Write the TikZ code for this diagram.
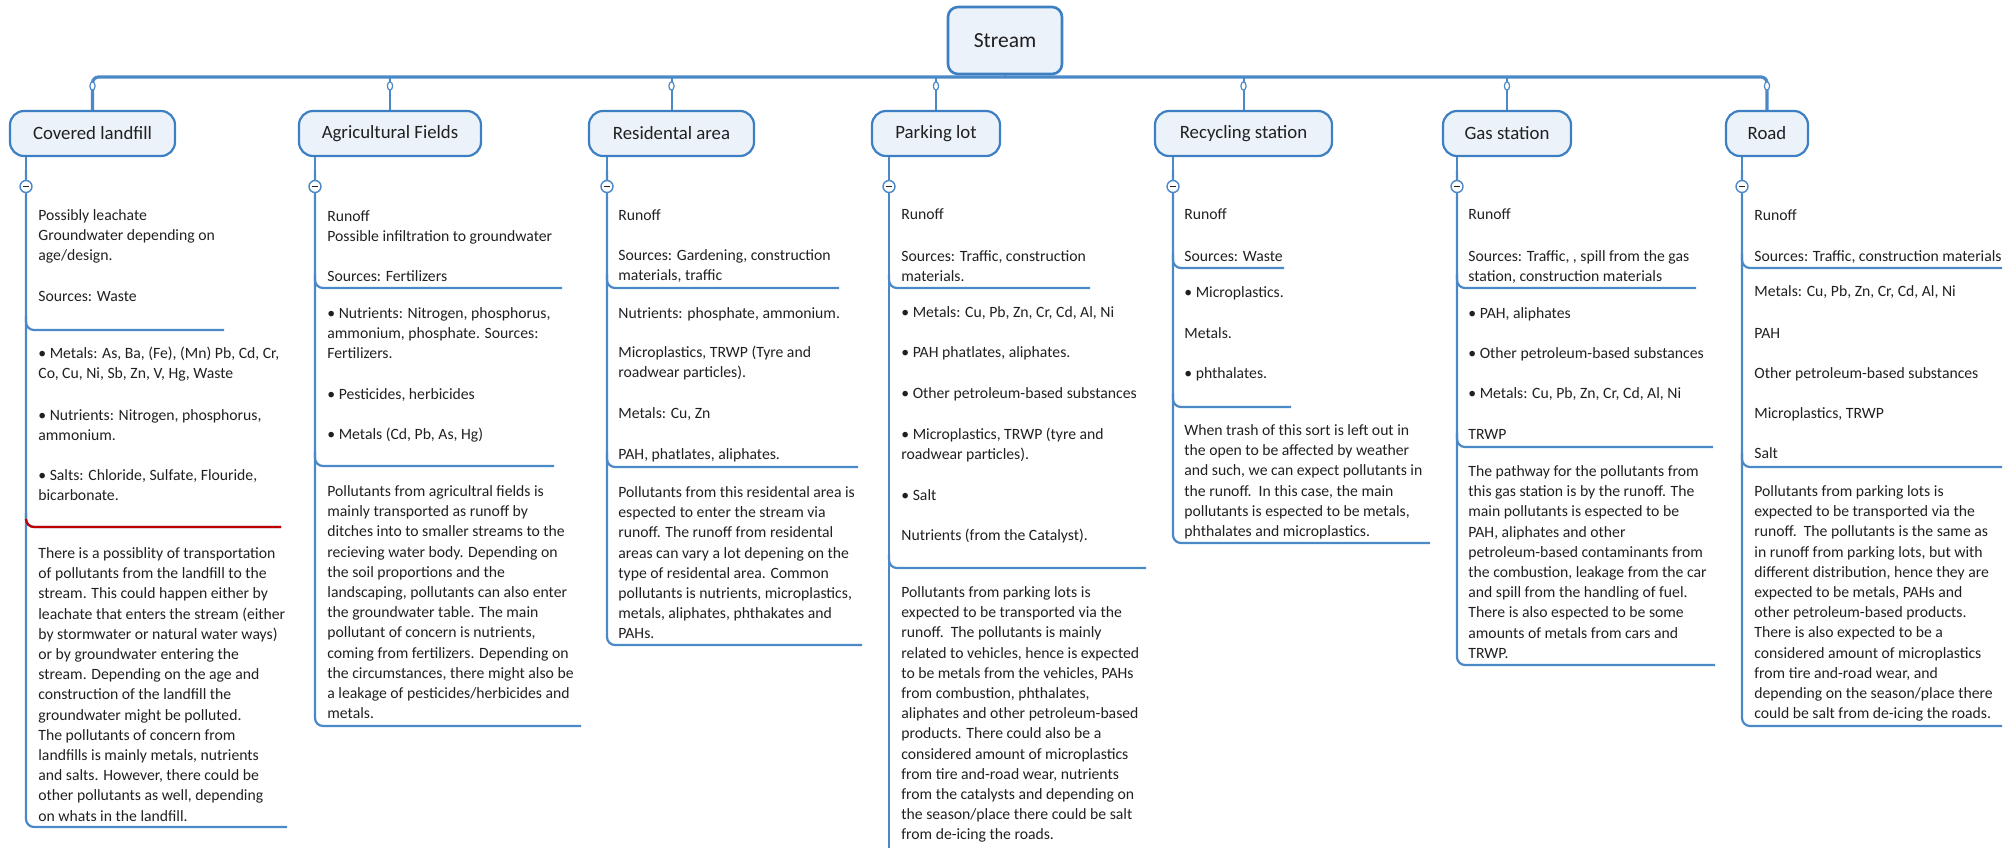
\documentclass[tikz,border=0pt]{standalone}
\usepackage{fontspec}
\setmainfont{Carlito}
\usetikzlibrary{shapes.geometric}
\definecolor{lnblue}{HTML}{4A88C8}
\definecolor{bxblue}{HTML}{3D7FC3}
\definecolor{bxfill}{HTML}{EBF2FA}
\definecolor{txtc}{HTML}{202020}
\definecolor{sepred}{HTML}{C00000}
\tikzset{
  txt/.style={anchor=north west, inner sep=0pt, align=left, text=txtc, font=\fontsize{7.85}{10.1}\selectfont},
  hdr/.style={draw=bxblue, fill=bxfill, line width=1.1pt, rounded corners=7pt, minimum height=22.5pt, inner sep=0pt, text=txtc, font=\fontsize{9.4}{11}\selectfont},
  root/.style={draw=bxblue, fill=bxfill, line width=1.3pt, rounded corners=5pt, minimum width=57pt, minimum height=33.5pt, inner sep=0pt, text=txtc, font=\fontsize{10.75}{12}\selectfont},
  ln/.style={draw=lnblue, line width=1pt},
  sepl/.style={draw=lnblue, line width=1.1pt, rounded corners=4pt},
  bus/.style={draw=lnblue, line width=1.6pt, rounded corners=3pt},
  knob/.style={ellipse, draw=lnblue, fill=white, line width=0.6pt, minimum width=2.6pt, minimum height=4.2pt, inner sep=0pt},
  minus/.style={circle, draw=lnblue, fill=white, line width=0.7pt, minimum size=6pt, inner sep=0pt},
  minusbar/.style={draw=txtc, line width=0.6pt}
}
\begin{document}
\begin{tikzpicture}[x=0.5pt,y=-0.5pt]
\useasboundingbox (0,0) rectangle (2008,847);
\clip (0,0) rectangle (2008,847);
\coordinate (by) at (0,77);
\coordinate (ky) at (0,86);

% root and headers
\node[root] (stream) at (1005,40.5) {Stream};
\node[hdr, minimum width=82.5pt] (h1) at (92.5,133.5) {Covered landfill};
\node[hdr, minimum width=91pt] (h2) at (390,133.5) {Agricultural Fields};
\node[hdr, minimum width=82.5pt] (h3) at (671.5,133.5) {Residental area};
\node[hdr, minimum width=64pt] (h4) at (936,133.5) {Parking lot};
\node[hdr, minimum width=88.5pt] (h5) at (1243.5,133.5) {Recycling station};
\node[hdr, minimum width=64pt] (h6) at (1507,133.5) {Gas station};
\node[hdr, minimum width=41pt] (h7) at (1767,133.5) {Road};

% bus
\draw[bus] (h1.north) -- (h1.north |- by) -- (h7.north |- by) -- (h7.north);
\foreach \h in {h2,h3,h4,h5,h6} \draw[ln] (\h.north) -- (\h.north |- by);
\draw[ln] (stream.south) -- (stream.south |- by);
\foreach \h/\k in {h1/k1,h2/k2,h3/k3,h4/k4,h5/k5,h6/k6,h7/k7} \node[knob] (\k) at (\h.north |- ky) {};

% column lines and separators
% col 1
\draw[sepl] (26,170) -- (26,827) -- (287,827);
\draw[sepl] (26,316) -- (26,330) -- (224,330);
\draw[sepl] (26,513) -- (26,527) -- (281,527);
\draw[sepl, draw=sepred] (26,519) -- (26,527) -- (281,527);
% col 2
\draw[sepl] (315,170) -- (315,726) -- (581,726);
\draw[sepl] (315,274) -- (315,288) -- (562,288);
\draw[sepl] (315,452) -- (315,466) -- (554,466);
% col 3
\draw[sepl] (607,170) -- (607,645) -- (862,645);
\draw[sepl] (607,274) -- (607,288) -- (839,288);
\draw[sepl] (607,453) -- (607,467) -- (858,467);
% col 4
\draw[ln] (889,170) -- (889,860);
\draw[sepl] (889,274) -- (889,288) -- (1090,288);
\draw[sepl] (889,554) -- (889,568) -- (1146,568);
% col 5
\draw[sepl] (1173,170) -- (1173,543) -- (1430,543);
\draw[sepl] (1173,254) -- (1173,268) -- (1284,268);
\draw[sepl] (1173,393) -- (1173,407) -- (1291,407);
% col 6
\draw[sepl] (1457,170) -- (1457,665) -- (1715,665);
\draw[sepl] (1457,274) -- (1457,288) -- (1696,288);
\draw[sepl] (1457,433) -- (1457,447) -- (1713,447);
% col 7
\draw[sepl] (1742,170) -- (1742,726) -- (2002,726);
\draw[sepl] (1742,254) -- (1742,268) -- (2002,268);
\draw[sepl] (1742,453) -- (1742,467) -- (2002,467);

% minus circles
\foreach \x/\h/\m in {26/h1/m1,315/h2/m2,607/h3/m3,889/h4/m4,1173/h5/m5,1457/h6/m6,1742/h7/m7}{
  \node[minus] (\m) at (\x,186.5) {};
  \draw[ln] (\h.south -| \m) -- (\m.north);
  \draw[minusbar] ([xshift=-1.7pt]\m.center) -- ([xshift=1.7pt]\m.center);
}

% ---------- column 1
\node[txt] (c1a) at (38,206) {\strut Possibly leachate\\Groundwater depending on\\age/design.};
\node[txt] (c1b) at (38,287) {\strut Sources: Waste};
\node[txt] (c1c) at (38,344) {\strut • Metals: As, Ba, (Fe), (Mn) Pb, Cd, Cr,\\Co, Cu, Ni, Sb, Zn, V, Hg, Waste};
\node[txt] (c1d) at (38,406) {\strut • Nutrients: Nitrogen, phosphorus,\\ammonium.};
\node[txt] (c1e) at (38,466) {\strut • Salts: Chloride, Sulfate, Flouride,\\bicarbonate.};
\node[txt] (c1f) at (38,544) {\strut There is a possiblity of transportation\\of pollutants from the landfill to the\\stream. This could happen either by\\leachate that enters the stream (either\\by stormwater or natural water ways)\\or by groundwater entering the\\stream. Depending on the age and\\construction of the landfill the\\groundwater might be polluted.\\The pollutants of concern from\\landfills is mainly metals, nutrients\\and salts. However, there could be\\other pollutants as well, depending\\on whats in the landfill.};

% ---------- column 2
\node[txt] (c2a) at (327,207) {\strut Runoff\\Possible infiltration to groundwater};
\node[txt] (c2b) at (327,267) {\strut Sources: Fertilizers};
\node[txt] (c2c) at (327,304) {\strut • Nutrients: Nitrogen, phosphorus,\\ammonium, phosphate. Sources:\\Fertilizers.};
\node[txt] (c2d) at (327,385) {\strut • Pesticides, herbicides};
\node[txt] (c2e) at (327,425) {\strut • Metals (Cd, Pb, As, Hg)};
\node[txt] (c2f) at (327,482) {\strut Pollutants from agricultral fields is\\mainly transported as runoff by\\ditches into to smaller streams to the\\recieving water body. Depending on\\the soil proportions and the\\landscaping, pollutants can also enter\\the groundwater table. The main\\pollutant of concern is nutrients,\\coming from fertilizers. Depending on\\the circumstances, there might also be\\a leakage of pesticides/herbicides and\\metals.};

% ---------- column 3
\node[txt] (c3a) at (618,206) {\strut Runoff};
\node[txt] (c3b) at (618,246) {\strut Sources: Gardening, construction\\materials, traffic};
\node[txt] (c3c) at (618,304) {\strut Nutrients: phosphate, ammonium.};
\node[txt] (c3d) at (618,343) {\strut Microplastics, TRWP (Tyre and\\roadwear particles).};
\node[txt] (c3e) at (618,404) {\strut Metals: Cu, Zn};
\node[txt] (c3f) at (618,445) {\strut PAH, phatlates, aliphates.};
\node[txt] (c3g) at (618,483) {\strut Pollutants from this residental area is\\espected to enter the stream via\\runoff. The runoff from residental\\areas can vary a lot depening on the\\type of residental area. Common\\pollutants is nutrients, microplastics,\\metals, aliphates, phthakates and\\PAHs.};

% ---------- column 4
\node[txt] (c4a) at (901,205) {\strut Runoff};
\node[txt] (c4b) at (901,247) {\strut Sources: Traffic, construction\\materials.};
\node[txt] (c4c) at (901,303) {\strut • Metals: Cu, Pb, Zn, Cr, Cd, Al, Ni};
\node[txt] (c4d) at (901,343) {\strut • PAH phatlates, aliphates.};
\node[txt] (c4e) at (901,384) {\strut • Other petroleum-based substances};
\node[txt] (c4f) at (901,425) {\strut • Microplastics, TRWP (tyre and\\roadwear particles).};
\node[txt] (c4g) at (901,486) {\strut • Salt};
\node[txt] (c4h) at (901,526) {\strut Nutrients (from the Catalyst).};
\node[txt] (c4i) at (901,583) {\strut Pollutants from parking lots is\\expected to be transported via the\\runoff.\ \ The pollutants is mainly\\related to vehicles, hence is expected\\to be metals from the vehicles, PAHs\\from combustion, phthalates,\\aliphates and other petroleum-based\\products. There could also be a\\considered amount of microplastics\\from tire and-road wear, nutrients\\from the catalysts and depending on\\the season/place there could be salt\\from de-icing the roads.};

% ---------- column 5
\node[txt] (c5a) at (1184,205) {\strut Runoff};
\node[txt] (c5b) at (1184,247) {\strut Sources: Waste};
\node[txt] (c5c) at (1184,283) {\strut • Microplastics.};
\node[txt] (c5d) at (1184,324) {\strut Metals.};
\node[txt] (c5e) at (1184,364) {\strut • phthalates.};
\node[txt] (c5f) at (1184,421) {\strut When trash of this sort is left out in\\the open to be affected by weather\\and such, we can expect pollutants in\\the runoff.\ \ In this case, the main\\pollutants is espected to be metals,\\phthalates and microplastics.};

% ---------- column 6
\node[txt] (c6a) at (1468,205) {\strut Runoff};
\node[txt] (c6b) at (1468,247) {\strut Sources: Traffic, , spill from the gas\\station, construction materials};
\node[txt] (c6c) at (1468,304) {\strut • PAH, aliphates};
\node[txt] (c6d) at (1468,344) {\strut • Other petroleum-based substances};
\node[txt] (c6e) at (1468,384) {\strut • Metals: Cu, Pb, Zn, Cr, Cd, Al, Ni};
\node[txt] (c6f) at (1468,425) {\strut TRWP};
\node[txt] (c6g) at (1468,462) {\strut The pathway for the pollutants from\\this gas station is by the runoff. The\\main pollutants is espected to be\\PAH, aliphates and other\\petroleum-based contaminants from\\the combustion, leakage from the car\\and spill from the handling of fuel.\\There is also espected to be some\\amounts of metals from cars and\\TRWP.};

% ---------- column 7
\node[txt] (c7a) at (1754,206) {\strut Runoff};
\node[txt] (c7b) at (1754,247) {\strut Sources: Traffic, construction materials};
\node[txt] (c7c) at (1754,282) {\strut Metals: Cu, Pb, Zn, Cr, Cd, Al, Ni};
\node[txt] (c7d) at (1754,324) {\strut PAH};
\node[txt] (c7e) at (1754,364) {\strut Other petroleum-based substances};
\node[txt] (c7f) at (1754,404) {\strut Microplastics, TRWP};
\node[txt] (c7g) at (1754,444) {\strut Salt};
\node[txt] (c7h) at (1754,482) {\strut Pollutants from parking lots is\\expected to be transported via the\\runoff.\ \ The pollutants is the same as\\in runoff from parking lots, but with\\different distribution, hence they are\\expected to be metals, PAHs and\\other petroleum-based products.\\There is also expected to be a\\considered amount of microplastics\\from tire and-road wear, and\\depending on the season/place there\\could be salt from de-icing the roads.};
\end{tikzpicture}
\end{document}
